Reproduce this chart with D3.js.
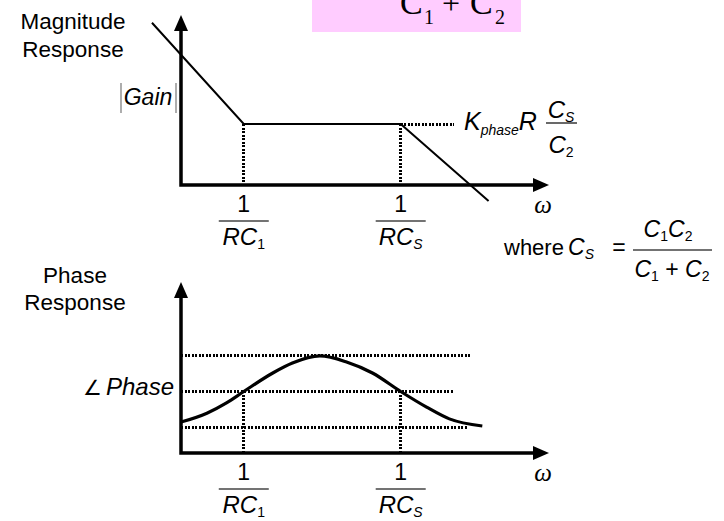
<!DOCTYPE html>
<html>
<head>
<meta charset="utf-8">
<script src="https://cdn.jsdelivr.net/npm/d3@7"></script>
<style>
  body { margin: 0; background: #fff; }
  svg { display: block; }
  text { font-family: "Liberation Sans", Arial, sans-serif; fill: #000; }
</style>
</head>
<body>
<svg id="chart" width="724" height="521"></svg>
<script>
// omega axis in units where 1/RC1 = 1 and 1/RCs = 3
const cornerW = [1, 3];
const cornerSub = ['1', 'S'];

// magnitude: asymptotic gain (arbitrary units, flat part = 4)
const magW = [-0.17, 1, 3, 4.12];
const magGain = [10.64, 4, 4, -1.05];

// phase (low = 1, mid = 2, peak = 3)
const phaseW = [0.2, 0.53, 0.78, 1.0, 1.37, 1.62, 1.97, 2.31, 2.64, 3.0, 3.33, 3.62, 4.04];
const phaseVal = [1.14, 1.39, 1.68, 2.0, 2.52, 2.8, 3.0, 2.83, 2.52, 2.0, 1.56, 1.23, 1.03];
const phaseLevels = [3, 2, 1];
const phaseLevelEnd = [3.88, 3.68, 3.85];

const svg = d3.select('#chart');

const x = d3.scaleLinear().domain([0.2, 4.89]).range([181, 549]);
const yMag = d3.scaleLinear().domain([0, 11.15]).range([185, 15]);
const yPh = d3.scaleLinear().domain([0.27, 5.08]).range([453, 282]);

const dotted = g => g
  .attr('stroke', '#000')
  .attr('stroke-width', 3)
  .attr('stroke-dasharray', '2,1.5')
  .attr('shape-rendering', 'crispEdges')
  .attr('fill', 'none');

// pink box on top (equation cut off by the frame)
svg.append('rect')
  .attr('x', 312).attr('y', -2).attr('width', 209).attr('height', 34)
  .attr('fill', '#ffccff');
[['C', 400, 14, 34], ['1', 424, 24, 20], ['+', 451, 14, 32], ['C', 470, 14, 34], ['2', 495, 24, 20]]
  .forEach(([t, tx, ty, fs]) => {
    svg.append('text')
      .attr('x', tx).attr('y', ty)
      .attr('text-anchor', t === '+' ? 'middle' : 'start')
      .style('font-family', '"Liberation Serif", "Times New Roman", serif')
      .attr('font-size', fs)
      .text(t);
  });

function drawAxes(yScale, y0, yTop) {
  const g = svg.append('g');
  const ox = x(0.2), oy = yScale(y0), tipX = x(4.89), tipY = yScale(yTop);
  g.append('path')
    .attr('d', `M${ox},${tipY + 14}V${oy}H${tipX - 14}`)
    .attr('fill', 'none')
    .attr('stroke', '#000')
    .attr('stroke-width', 3.5);
  g.append('path')
    .attr('d', `M${ox},${tipY}L${ox - 7},${tipY + 16}L${ox + 7},${tipY + 16}Z`);
  g.append('path')
    .attr('d', `M${tipX},${oy}L${tipX - 16},${oy - 7}L${tipX - 16},${oy + 7}Z`);
  svg.append('text')
    .attr('x', tipX - 6).attr('y', oy + 28)
    .attr('text-anchor', 'middle')
    .style('font-family', '"Liberation Serif", "Times New Roman", serif')
    .attr('font-style', 'italic')
    .attr('font-size', 25)
    .text('ω');
  return oy;
}

function cornerLabels(axisY) {
  cornerW.forEach((w, i) => {
    const cx = x(w);
    svg.append('text')
      .attr('x', cx).attr('y', axisY + 27)
      .attr('text-anchor', 'middle')
      .attr('font-size', 23)
      .text('1');
    svg.append('line')
      .attr('x1', cx - 25).attr('x2', cx + 25)
      .attr('y1', axisY + 36).attr('y2', axisY + 36)
      .attr('stroke', '#444').attr('stroke-width', 1.6);
    const t = svg.append('text')
      .attr('x', cx).attr('y', axisY + 60)
      .attr('text-anchor', 'middle')
      .attr('font-size', 24);
    t.append('tspan').attr('font-style', 'italic').text('RC');
    t.append('tspan')
      .attr('font-size', 14).attr('dy', 4)
      .attr('font-style', cornerSub[i] === 'S' ? 'italic' : 'normal')
      .text(cornerSub[i]);
  });
}

// ---------- magnitude panel ----------
const magAxisY = drawAxes(yMag, 0, 11.15);

cornerW.forEach(w => {
  svg.append('line')
    .attr('x1', x(w)).attr('x2', x(w))
    .attr('y1', yMag(4)).attr('y2', magAxisY)
    .call(dotted);
});
svg.append('line')
  .attr('x1', x(3)).attr('x2', x(3.68))
  .attr('y1', yMag(4)).attr('y2', yMag(4))
  .call(dotted);

svg.append('path')
  .datum(d3.zip(magW, magGain))
  .attr('d', d3.line(d => x(d[0]), d => yMag(d[1])))
  .attr('fill', 'none')
  .attr('stroke', '#000')
  .attr('stroke-width', 2);

cornerLabels(magAxisY);

svg.append('text').attr('x', 73).attr('y', 29).attr('text-anchor', 'middle').attr('font-size', 22.5).text('Magnitude');
svg.append('text').attr('x', 73).attr('y', 57).attr('text-anchor', 'middle').attr('font-size', 22.5).text('Response');

// |Gain|
svg.append('text').attr('x', 148).attr('y', 105).attr('text-anchor', 'middle')
  .attr('font-size', 23).attr('font-style', 'italic').text('Gain');
[121, 176].forEach(bx => {
  svg.append('line')
    .attr('x1', bx).attr('x2', bx).attr('y1', 83).attr('y2', 113)
    .attr('stroke', '#777').attr('stroke-width', 1.2);
});

// K_phase R Cs/C2
const k = svg.append('text').attr('x', 464).attr('y', 130).attr('font-size', 25).attr('font-style', 'italic');
k.append('tspan').text('K');
k.append('tspan').attr('font-size', 14).attr('dy', 5).text('phase');
k.append('tspan').attr('dy', -5).text('R');
svg.append('line').attr('x1', 546).attr('x2', 577).attr('y1', 123).attr('y2', 123)
  .attr('stroke', '#444').attr('stroke-width', 1.6);
[[118, 'S', true], [153, '2', false]].forEach(([ty, sub, it]) => {
  const t = svg.append('text').attr('x', 561).attr('y', ty).attr('text-anchor', 'middle').attr('font-size', 24);
  t.append('tspan').attr('font-style', 'italic').text('C');
  t.append('tspan').attr('font-size', 14).attr('dy', 4).attr('font-style', it ? 'italic' : 'normal').text(sub);
});

// where Cs = C1C2 / (C1 + C2)
svg.append('text').attr('x', 504).attr('y', 255).attr('font-size', 22).text('where');
const cs = svg.append('text').attr('x', 568).attr('y', 255).attr('font-size', 23);
cs.append('tspan').attr('font-style', 'italic').text('C');
cs.append('tspan').attr('font-size', 14).attr('dy', 4).attr('font-style', 'italic').text('S');
svg.append('text').attr('x', 619).attr('y', 255).attr('text-anchor', 'middle').attr('font-size', 23).text('=');
svg.append('line').attr('x1', 633).attr('x2', 712).attr('y1', 250).attr('y2', 250)
  .attr('stroke', '#444').attr('stroke-width', 1.6);
const num = svg.append('text').attr('x', 668).attr('y', 237).attr('text-anchor', 'middle').attr('font-size', 23);
num.append('tspan').attr('font-style', 'italic').text('C');
num.append('tspan').attr('font-size', 14).attr('dy', 4).text('1');
num.append('tspan').attr('font-style', 'italic').attr('dy', -4).text('C');
num.append('tspan').attr('font-size', 14).attr('dy', 4).text('2');
const den = svg.append('text').attr('x', 672).attr('y', 277).attr('text-anchor', 'middle').attr('font-size', 23);
den.append('tspan').attr('font-style', 'italic').text('C');
den.append('tspan').attr('font-size', 14).attr('dy', 4).text('1');
den.append('tspan').attr('dy', -4).text(' + ');
den.append('tspan').attr('font-style', 'italic').text('C');
den.append('tspan').attr('font-size', 14).attr('dy', 4).text('2');

// ---------- phase panel ----------
const phAxisY = drawAxes(yPh, 0.27, 5.08);

phaseLevels.forEach((lv, i) => {
  svg.append('line')
    .attr('x1', x(0.2)).attr('x2', x(phaseLevelEnd[i]))
    .attr('y1', yPh(lv)).attr('y2', yPh(lv))
    .call(dotted);
});
cornerW.forEach(w => {
  svg.append('line')
    .attr('x1', x(w)).attr('x2', x(w))
    .attr('y1', yPh(2)).attr('y2', phAxisY)
    .call(dotted);
});

svg.append('path')
  .datum(d3.zip(phaseW, phaseVal))
  .attr('d', d3.line(d => x(d[0]), d => yPh(d[1])).curve(d3.curveMonotoneX))
  .attr('fill', 'none')
  .attr('stroke', '#000')
  .attr('stroke-width', 3.2);

cornerLabels(phAxisY);

svg.append('text').attr('x', 75).attr('y', 283).attr('text-anchor', 'middle').attr('font-size', 22.5).text('Phase');
svg.append('text').attr('x', 75).attr('y', 310).attr('text-anchor', 'middle').attr('font-size', 22.5).text('Response');

svg.append('text').attr('x', 83).attr('y', 395).attr('font-size', 21)
  .style('font-family', '"DejaVu Sans", sans-serif').attr('fill', '#333').text('∠');
svg.append('text').attr('x', 106).attr('y', 395).attr('font-size', 24)
  .attr('font-style', 'italic').text('Phase');
</script>
</body>
</html>
